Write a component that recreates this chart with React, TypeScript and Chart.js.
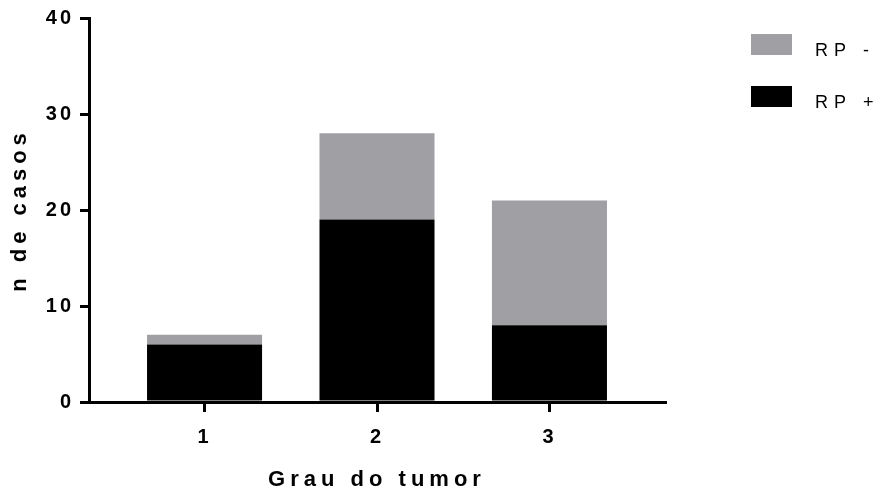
import { useEffect, useRef } from 'react';
import { Chart, registerables } from 'chart.js';

Chart.register(...registerables);

// ---- data ----
const categories = [1, 2, 3];
const categoryLabels = ['1', '2', '3'];
const rpPositive = [6, 19, 8];
const rpNegative = [1, 9, 13];
const yTickValues = [0, 10, 20, 30, 40];
const seriesLabels = ['RP +', 'RP -'];
const seriesColors = ['#000000', '#a09fa4'];
const xTitle = 'Grau do tumor';
const yTitle = 'n de casos';

const FONT = '"Liberation Sans", Arial, sans-serif';

const spacingPlugin = {
  id: 'letterSpacing',
  beforeLayout(chart: any) {
    chart.ctx.letterSpacing = '3px';
  },
  afterUpdate(chart: any) {
    Object.values(chart.scales).forEach((scale: any) => {
      if (scale.__wrapped) return;
      scale.__wrapped = true;
      const origTitle = scale.drawTitle.bind(scale);
      scale.drawTitle = function () {
        const c = this.ctx;
        const prev = c.letterSpacing;
        c.letterSpacing = '5px';
        origTitle();
        c.letterSpacing = prev;
      };
    });
  },
  beforeDraw(chart: any) {
    chart.ctx.letterSpacing = '3px';
  },
};

const sideLegend = {
  id: 'sideLegend',
  afterDraw(chart: any) {
    const ctx = chart.ctx;
    ctx.save();
    const items = chart.data.datasets.slice().reverse();
    items.forEach((ds: any, i: number) => {
      const y = 34 + i * 52;
      ctx.fillStyle = ds.backgroundColor;
      ctx.fillRect(751, y, 41, 21);
      ctx.fillStyle = '#000';
      ctx.font = `18px ${FONT}`;
      (ctx as any).letterSpacing = '6px';
      ctx.textAlign = 'left';
      ctx.textBaseline = 'alphabetic';
      ctx.fillText(ds.label, 815, y + 22);
    });
    ctx.restore();
  },
};

export default function App() {
  const ref = useRef<HTMLCanvasElement>(null);

  useEffect(() => {
    if (!ref.current) return;
    const chart = new Chart(ref.current, {
      type: 'bar',
      data: {
        datasets: [
          {
            label: seriesLabels[0],
            data: categories.map((c, i) => ({ x: c, y: rpPositive[i] })),
            backgroundColor: seriesColors[0],
            borderWidth: 0,
          },
          {
            label: seriesLabels[1],
            data: categories.map((c, i) => ({ x: c, y: rpNegative[i] })),
            backgroundColor: seriesColors[1],
            borderWidth: 0,
          },
        ],
      },
      options: {
        animation: false,
        responsive: false,
        layout: { padding: { left: 0, right: 220, top: 18, bottom: 0 } },
        datasets: { bar: { categoryPercentage: 1, barPercentage: 0.667 } },
        plugins: { legend: { display: false }, tooltip: { enabled: false } },
        scales: {
          x: {
            type: 'linear',
            min: 0.33,
            max: 3.67,
            offset: false,
            stacked: true,
            afterBuildTicks: (s: any) => {
              s.ticks = categories.map((v) => ({ value: v }));
            },
            afterFit: (s: any) => {
              s.height = 90;
            },
            ticks: {
              color: '#000',
              font: { family: FONT, size: 20, weight: 'bold' },
              padding: 13,
              maxRotation: 0,
              autoSkip: false,
              callback: (v: any) => {
                const idx = categories.indexOf(Number(v));
                return idx >= 0 ? categoryLabels[idx] : '';
              },
            },
            grid: {
              offset: false,
              drawOnChartArea: false,
              color: '#000',
              lineWidth: 3,
              tickLength: 10,
            },
            border: { color: '#000', width: 3 },
            title: {
              display: true,
              text: xTitle,
              color: '#000',
              font: { family: FONT, size: 22, weight: 'bold', lineHeight: 1.1 },
              padding: { top: 0, bottom: 0 },
            },
          },
          y: {
            min: 0,
            max: 40,
            stacked: true,
            afterBuildTicks: (s: any) => {
              s.ticks = yTickValues.map((v) => ({ value: v }));
            },
            afterFit: (s: any) => {
              s.width = 89;
            },
            ticks: {
              color: '#000',
              font: { family: FONT, size: 20, weight: 'bold' },
              padding: 6,
            },
            grid: {
              drawOnChartArea: false,
              color: '#000',
              lineWidth: 3,
              tickLength: 9,
            },
            border: { color: '#000', width: 3 },
            title: {
              display: true,
              text: yTitle,
              color: '#000',
              font: { family: FONT, size: 22, weight: 'bold' },
              padding: { top: 7, bottom: 0 },
            },
          },
        },
      },
      plugins: [spacingPlugin, sideLegend],
    } as any);
    return () => chart.destroy();
  }, []);

  return (
    <div style={{ position: 'absolute', left: 0, top: 0, width: 885, height: 492 }}>
      <canvas ref={ref} width={885} height={492} style={{ display: 'block' }} />
    </div>
  );
}
